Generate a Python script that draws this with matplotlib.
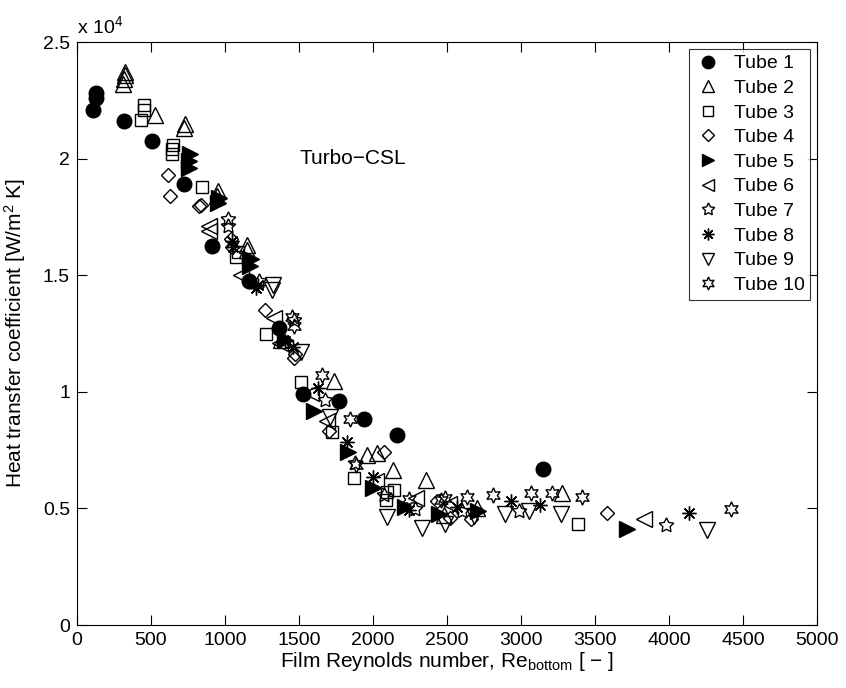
import matplotlib as mpl
import matplotlib.pyplot as plt

# ---------------- data (y in units of 1e4 W/m^2K) ----------------
tube1_x = [110, 125, 130, 317, 510, 725, 911, 1159, 1367, 1527, 1771, 1942, 2161, 3150]
tube1_y = [2.21, 2.26, 2.28, 2.16, 2.077, 1.89, 1.625, 1.476, 1.275, 0.992, 0.962, 0.883, 0.814, 0.671]

tube2_x = [312, 318, 322, 325, 525, 720, 728, 945, 952, 1148, 1152, 1380, 1738, 1961, 2025, 2136, 2361, 2480, 2700, 3278]
tube2_y = [2.32, 2.34, 2.36, 2.37, 2.186, 2.13, 2.15, 1.84, 1.86, 1.61, 1.63, 1.22, 1.047, 0.727, 0.738, 0.665, 0.623, 0.47, 0.50, 0.567]

tube3_x = [434, 450, 455, 640, 645, 650, 845, 1071, 1090, 1275, 1516, 1720, 1870, 2088, 2095, 2145, 3386]
tube3_y = [2.167, 2.21, 2.23, 2.02, 2.04, 2.06, 1.88, 1.58, 1.60, 1.25, 1.04, 0.827, 0.63, 0.536, 0.57, 0.58, 0.435]

tube4_x = [616, 630, 827, 835, 1039, 1045, 1268, 1465, 1475, 1705, 2075, 2430, 2520, 2660, 3579]
tube4_y = [1.93, 1.84, 1.795, 1.80, 1.654, 1.62, 1.35, 1.147, 1.16, 0.833, 0.742, 0.533, 0.46, 0.455, 0.479]

tube5_x = [755, 760, 765, 955, 960, 1170, 1175, 1405, 1603, 1833, 2000, 2219, 2449, 2711, 3714]
tube5_y = [1.96, 1.99, 2.02, 1.81, 1.83, 1.54, 1.57, 1.22, 0.917, 0.742, 0.588, 0.504, 0.474, 0.487, 0.41]

tube6_x = [889, 895, 1108, 1330, 1370, 1582, 1688, 2019, 2292, 2511, 3834]
tube6_y = [1.69, 1.71, 1.50, 1.316, 1.21, 0.996, 0.874, 0.617, 0.543, 0.517, 0.455]

tube7_x = [1017, 1022, 1228, 1469, 1676, 1880, 2074, 2285, 2600, 2985, 3980]
tube7_y = [1.739, 1.71, 1.476, 1.31, 0.964, 0.695, 0.558, 0.498, 0.49, 0.489, 0.427]

tube8_x = [1046, 1055, 1210, 1225, 1403, 1458, 1629, 1822, 2000, 2241, 2569, 2930, 3127, 4136]
tube8_y = [1.645, 1.62, 1.447, 1.46, 1.216, 1.19, 1.015, 0.784, 0.635, 0.494, 0.508, 0.532, 0.515, 0.479]

tube9_x = [1319, 1325, 1516, 1709, 2092, 2329, 2485, 2683, 2892, 3054, 3269, 4260]
tube9_y = [1.438, 1.46, 1.169, 0.893, 0.464, 0.417, 0.432, 0.469, 0.474, 0.489, 0.474, 0.408]

tube10_x = [1450, 1469, 1655, 1844, 1888, 2241, 2460, 2487, 2635, 2813, 3068, 3211, 3415, 4417]
tube10_y = [1.321, 1.284, 1.07, 0.883, 0.686, 0.539, 0.536, 0.546, 0.549, 0.558, 0.564, 0.564, 0.549, 0.498]

labels = [f"Tube {i}" for i in range(1, 11)]
xs = [tube1_x, tube2_x, tube3_x, tube4_x, tube5_x, tube6_x, tube7_x, tube8_x, tube9_x, tube10_x]
ys = [tube1_y, tube2_y, tube3_y, tube4_y, tube5_y, tube6_y, tube7_y, tube8_y, tube9_y, tube10_y]

# MATLAB-like marker set: o ^ s d > < pentagram * v hexagram
markers = ["o", "^", "s", "D", ">", "<", (5, 1, 0), (8, 2, 0), "v", (6, 1, 0)]
filled  = [True, False, False, False, True, False, False, False, False, False]
msizes  = [10.5, 11, 8.5, 7.5, 11, 11, 11, 10, 11, 11]

mpl.rcParams.update({
    "font.family": ["Liberation Sans", "DejaVu Sans"],
    "mathtext.fontset": "custom",
    "mathtext.rm": "Liberation Sans",
    "mathtext.it": "Liberation Sans:italic",
    "xtick.direction": "in",
    "ytick.direction": "in",
    "xtick.top": True,
    "ytick.right": True,
    "font.size": 14,
})

fig = plt.figure(figsize=(8.46, 6.88), dpi=100)
# axes box in pixels: x 77..817, y 42..625
ax = fig.add_axes([77 / 846, 63 / 688, 740 / 846, 583 / 688])

for x, y, m, f, ms, lab in zip(xs, ys, markers, filled, msizes, labels):
    ax.plot(x, y, linestyle="none", marker=m, markersize=ms,
            markerfacecolor="black" if f else "none", markeredgecolor="black",
            markeredgewidth=1.0, label=lab)

ax.set_xlim(0, 5000)
ax.set_ylim(0, 2.5)
ax.set_xticks(range(0, 5001, 500))
ax.set_yticks([0, 0.5, 1, 1.5, 2, 2.5])
ax.set_yticklabels(["0", "0.5", "1", "1.5", "2", "2.5"])
ax.tick_params(length=7, width=0.8, labelsize=14, pad=5)
for s in ax.spines.values():
    s.set_linewidth(0.8)

ax.text(0, 1.008, r"x 10$^4$", transform=ax.transAxes, fontsize=14, va="bottom", ha="left")
ax.text(1500, 2.0, "Turbo\u2212CSL", fontsize=15, va="center", ha="left")

ax.set_xlabel("Film Reynolds number, Re$_{\\mathrm{bottom}}$ [ \u2212 ]", fontsize=15, labelpad=1)
ax.set_ylabel("Heat transfer coefficient [W/m$^2$ K]", fontsize=15)
ax.yaxis.set_label_coords(-0.066, 0.5)

leg = ax.legend(loc="upper right", bbox_to_anchor=(0.991, 0.988), fontsize=14,
                frameon=True, fancybox=False, edgecolor="black", borderpad=0.3,
                labelspacing=0.36, handletextpad=0.6, handlelength=1.4,
                borderaxespad=0.0, markerscale=0.85)
leg.get_frame().set_linewidth(0.8)

fig.savefig("out.png", dpi=100)
